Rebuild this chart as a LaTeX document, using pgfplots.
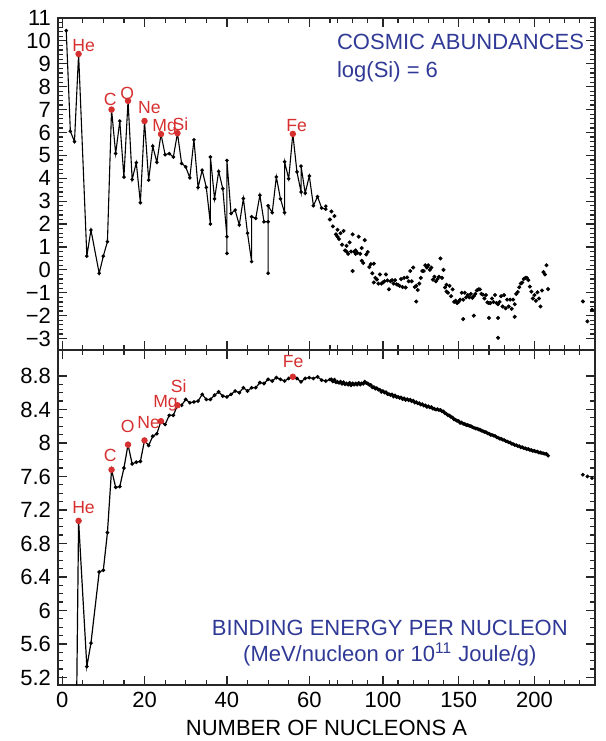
\documentclass[border=0pt]{standalone}
\usepackage{pgfplots}
\pgfplotsset{compat=1.18}
\usepackage{pgfplotstable}
\usepackage{fontspec}
\setmainfont{Liberation Sans}
\definecolor{elred}{RGB}{214,48,48}
\definecolor{txtblue}{RGB}{48,58,150}

\pgfplotstableread{
A v
1 10.45
2 6.05
3 5.6
4 9.43
6 0.6
7 1.74
9 -0.15
10 0.6
11 1.23
12 7.0
13 5.08
14 6.5
15 4.05
16 7.38
17 3.95
18 4.68
19 2.93
20 6.5
21 3.92
22 5.4
23 4.7
24 5.93
25 5.03
26 5.08
27 4.93
28 5.97
29 4.65
30 4.5
31 4.02
32 5.68
33 3.6
34 4.35
35 3.6
36 2.0
36 4.93
37 3.1
38 4.3
39 3.55
40 1.45
40 0.72
40 4.78
41 2.46
42 2.61
43 1.96
44 3.12
45 1.6
46 0.36
46 2.32
47 2.25
48 3.26
49 2.1
50 2.1
50 -0.15
50 2.8
51 2.5
52 4.06
53 3.1
54 2.5
54 4.72
55 3.98
56 5.94
57 4.28
58 3.4
58 4.53
59 3.35
60 4.1
61 2.8
62 3.2
63 2.7
64 2.65
64 2.78
}\abline

\pgfplotstableread{
A v
65 2.2
66 2.55
67 1.9
68 2.35
69 1.55
70 1.45
70 1.75
71 1.35
72 1.6
73 1.1
74 1.7
75 0.85
76 1.05
76 0.8
77 0.7
78 1.2
79 0.8
80 1.55
80 -0.05
81 0.8
82 0.85
82 0.7
83 0.75
84 1.45
85 0.7
86 0.95
86 0.4
87 0.3
88 1.3
89 0.67
90 0.78
91 0.12
92 0.25
93 -0.15
94 0.27
94 -0.55
95 -0.35
96 -0.42
97 -0.6
98 -0.2
99 -0.6
100 -0.55
101 -0.5
102 -0.2
103 -0.46
104 -0.85
105 -0.5
106 -0.45
107 -0.6
108 -0.45
109 -0.63
110 -0.65
111 -0.7
112 -0.4
113 -0.75
114 -0.35
115 -0.77
116 -0.33
117 -0.5
118 -0.05
119 -0.5
120 0.1
121 -0.75
122 -0.7
122 -1.38
123 -0.88
124 -0.6
125 -0.35
126 -0.05
127 -0.05
128 0.2
129 0.1
130 0.2
131 0.0
132 0.1
133 -0.43
134 -0.3
135 -0.5
136 -0.4
137 -0.3
138 0.5
139 -0.35
140 0.0
141 -0.77
142 -0.95
142 -0.65
143 -1.0
144 -0.7
145 -1.15
146 -0.85
147 -1.4
148 -1.35
149 -1.45
150 -1.4
151 -1.3
152 -1.0
153 -1.3
153 -2.15
154 -1.0
155 -1.2
156 -1.1
157 -1.2
158 -1.05
159 -1.22
160 -1.15
160 -2.0
161 -1.05
162 -0.9
163 -0.85
164 -0.85
165 -1.05
166 -1.08
167 -1.25
168 -1.1
169 -1.42
170 -1.45
170 -2.1
171 -1.45
172 -1.25
173 -1.4
174 -1.1
175 -1.45
176 -1.5
176 -2.1
176 -2.97
177 -1.4
178 -1.15
179 -1.6
180 -1.1
181 -1.68
182 -1.3
183 -1.6
184 -1.3
185 -1.7
186 -1.3
187 -1.5
187 -2.05
188 -1.05
189 -0.97
190 -0.76
191 -0.6
192 -0.55
193 -0.4
194 -0.35
195 -0.35
196 -0.45
197 -0.73
198 -0.95
199 -1.25
200 -1.1
201 -1.35
202 -0.98
203 -1.25
204 -1.6
205 -0.9
206 -0.1
207 -0.2
208 0.2
209 -0.84
232 -1.38
235 -2.25
238 -1.74
}\abscat

\pgfplotstableread{
A v
2 1.11
3 2.83
3 2.57
4 7.07
6 5.33
7 5.61
9 6.46
10 6.48
11 6.93
12 7.68
13 7.47
14 7.48
15 7.70
16 7.98
17 7.75
18 7.77
19 7.78
20 8.03
21 7.97
22 8.08
23 8.11
24 8.26
25 8.22
26 8.33
27 8.33
28 8.45
29 8.45
30 8.52
31 8.48
32 8.49
33 8.50
34 8.58
35 8.52
36 8.52
37 8.57
38 8.61
39 8.56
40 8.55
41 8.58
42 8.62
43 8.60
44 8.66
45 8.62
46 8.66
47 8.66
48 8.72
49 8.71
50 8.76
51 8.74
52 8.78
53 8.76
54 8.74
55 8.77
56 8.79
57 8.77
58 8.73
59 8.77
60 8.78
61 8.77
62 8.79
63 8.75
64 8.74
65 8.757
66 8.760
67 8.734
68 8.756
69 8.725
70 8.730
71 8.718
72 8.732
73 8.705
74 8.725
75 8.701
76 8.711
77 8.695
78 8.718
79 8.688
80 8.711
81 8.696
82 8.711
83 8.696
84 8.717
85 8.697
86 8.712
87 8.705
88 8.733
89 8.714
90 8.710
91 8.693
92 8.693
93 8.664
94 8.667
95 8.649
96 8.654
97 8.635
98 8.635
99 8.609
100 8.619
101 8.601
102 8.607
103 8.584
104 8.584
105 8.571
106 8.580
107 8.554
108 8.567
109 8.548
110 8.551
111 8.537
112 8.544
113 8.523
114 8.532
115 8.514
116 8.523
117 8.510
118 8.517
119 8.499
120 8.505
121 8.482
122 8.488
123 8.472
124 8.474
125 8.458
126 8.463
127 8.446
128 8.449
129 8.431
130 8.438
131 8.424
132 8.428
133 8.410
134 8.408
135 8.398
136 8.403
137 8.392
138 8.394
139 8.378
140 8.376
141 8.354
142 8.347
143 8.330
144 8.327
145 8.309
146 8.304
147 8.281
148 8.277
149 8.263
150 8.262
151 8.239
152 8.244
153 8.229
154 8.227
155 8.213
156 8.215
157 8.204
158 8.202
159 8.189
160 8.183
161 8.173
162 8.173
163 8.162
164 8.159
165 8.147
166 8.142
167 8.132
168 8.130
169 8.115
170 8.112
171 8.098
172 8.097
173 8.087
174 8.084
175 8.069
176 8.064
177 8.052
178 8.049
179 8.039
180 8.035
181 8.023
182 8.018
183 8.008
184 8.005
185 7.991
186 7.986
187 7.975
188 7.974
189 7.963
190 7.963
191 7.948
192 7.949
193 7.938
194 7.936
195 7.927
196 7.927
197 7.916
198 7.914
199 7.905
200 7.906
201 7.897
202 7.897
203 7.886
204 7.886
205 7.879
206 7.875
207 7.870
208 7.868
209 7.848
}\beline

\pgfplotsset{
  panel/.style={
    scale only axis, width=268.5pt,
    xmin=-1, xmax=240,
    x coord trafo/.code={\pgfmathparse{(##1<=65) ? (##1) : (65+(##1-65)*0.3677)}},
    x coord inv trafo/.code={\pgfmathparse{(##1<=65) ? (##1) : (65+(##1-65)/0.3677)}},
    xtick={0,20,40,60,100,150,200},
    minor xtick={5,10,15,25,30,35,45,50,55,65,70,80,90,110,120,130,140,160,170,180,190,210,220,230,240},
    major tick length=4.5pt, minor tick length=2.6pt,
    every tick/.style={black!85, line width=0.6pt},
    axis line style={black!85, line width=0.8pt},
    tick label style={font=\fontsize{11}{12}\selectfont},
    clip=true,
  }
}

\begin{document}
\begin{tikzpicture}
\begin{axis}[panel, name=top, height=166pt,
  ymin=-3.5, ymax=11,
  ytick={-3,-2,-1,0,1,2,3,4,5,6,7,8,9,10,11},
  yticklabels={−3,−2,−1,0,1,2,3,4,5,6,7,8,9,10,11},
  minor y tick num=4,
  xticklabels={},
]
\addplot[black, line width=0.55pt, mark=*, mark size=0.6pt] table[x=A,y=v]{\abline};
\addplot[only marks, black, mark=*, mark size=0.8pt] table[x=A,y=v]{\abscat};
\addplot[only marks, elred, mark=*, mark size=1.4pt] coordinates {(4,9.43)(12,7.0)(16,7.38)(20,6.5)(24,5.93)(28,5.97)(56,5.94)};
\begin{scope}[every node/.style={elred, anchor=base, inner sep=0pt, font=\fontsize{8.8}{10}\selectfont}]
\node at (axis cs:5.2,9.52) {He};
\node at (axis cs:11.65,7.17) {C};
\node at (axis cs:15.8,7.43) {O};
\node at (axis cs:21.2,6.84) {Ne};
\node at (axis cs:24.9,6.05) {Mg};
\node at (axis cs:28.7,6.09) {Si};
\node at (axis cs:56.9,6.04) {Fe};
\end{scope}
\node[txtblue, anchor=base west, inner sep=0pt, font=\fontsize{11}{12}\selectfont] at (rel axis cs:0.519,0.904) {COSMIC ABUNDANCES};
\node[txtblue, anchor=base west, inner sep=0pt, font=\fontsize{11}{12}\selectfont] at (rel axis cs:0.519,0.821) {log(Si) = 6};
\end{axis}

\begin{axis}[panel, height=167.5pt, at={(top.south west)}, anchor=north west,
  ymin=5.11, ymax=9.11,
  ytick={5.2,5.6,6.0,6.4,6.8,7.2,7.6,8.0,8.4,8.8},
  yticklabels={5.2,5.6,6,6.4,6.8,7.2,7.6,8,8.4,8.8},
  minor y tick num=3,
  xticklabels={0,20,40,60,100,150,200},
  xlabel={NUMBER OF NUCLEONS A},
  xlabel style={at={(axis description cs:0.5,-0.152)}, anchor=base, inner sep=0pt, font=\fontsize{11}{12}\selectfont},
]
\addplot[black, line width=0.6pt, mark=*, mark size=0.6pt] table[x=A,y=v]{\beline};
\addplot[only marks, black, mark=*, mark size=0.75pt] coordinates {(232,7.62)(235,7.60)(238,7.58)};
\addplot[only marks, elred, mark=*, mark size=1.4pt] coordinates {(4,7.07)(12,7.68)(16,7.98)(20,8.03)(24,8.26)(28,8.45)(56,8.79)};
\begin{scope}[every node/.style={elred, anchor=base, inner sep=0pt, font=\fontsize{8.8}{10}\selectfont}]
\node at (axis cs:5.2,7.163) {He};
\node at (axis cs:11.65,7.773) {C};
\node at (axis cs:15.9,8.119) {O};
\node at (axis cs:21.0,8.167) {Ne};
\node at (axis cs:25.1,8.418) {Mg};
\node at (axis cs:28.3,8.597) {Si};
\node at (axis cs:56.1,8.896) {Fe};
\end{scope}
\node[txtblue, anchor=base, inner sep=0pt, font=\fontsize{11}{12}\selectfont] at (rel axis cs:0.618,0.149) {BINDING ENERGY PER NUCLEON};
\node[txtblue, anchor=base, inner sep=0pt, font=\fontsize{11}{12}\selectfont] at (rel axis cs:0.618,0.070) {(MeV/nucleon or 10\textsuperscript{11} Joule/g)};
\end{axis}
\pgfresetboundingbox
\path ([shift={(-29pt,9pt)}]top.north west) rectangle ([shift={(274pt,-361.5pt)}]top.north west);
\end{tikzpicture}
\end{document}
